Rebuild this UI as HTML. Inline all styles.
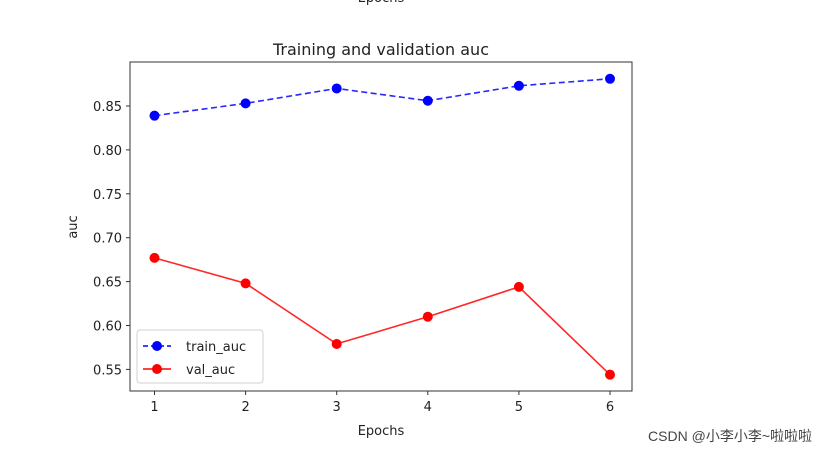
<!DOCTYPE html>
<html><head><meta charset="utf-8"><style>
body{margin:0;background:#fff;width:827px;height:454px;overflow:hidden}
svg text{font-family:"DejaVu Sans","Liberation Sans",sans-serif;fill:#222}
</style></head><body>
<svg id="chart" width="827" height="454" xmlns="http://www.w3.org/2000/svg">
<text x="381" y="2" font-size="13" text-anchor="middle">Epochs</text>
<text x="381" y="55" font-size="16" text-anchor="middle">Training and validation auc</text>
<g id="xt"></g>
<g id="yt"></g>
<g id="series"></g>
<rect x="130" y="62" width="502" height="329" fill="none" stroke="#333" stroke-width="1"/>
<text x="381" y="435" font-size="13" text-anchor="middle">Epochs</text>
<text x="0" y="0" font-size="13" text-anchor="middle" transform="translate(77,227) rotate(-90)">auc</text>
<g>
<rect x="137" y="330" width="126" height="53" rx="3" fill="#fff" stroke="#ccc" opacity="0.9"/>
<line x1="143" y1="346" x2="171" y2="346" stroke="#0000ff" stroke-width="1.5" stroke-dasharray="5,3"/>
<circle cx="157" cy="346" r="5" fill="#0000ff"/>
<text x="186" y="351" font-size="13">train_auc</text>
<line x1="143" y1="369" x2="171" y2="369" stroke="#ff0000" stroke-width="1.5"/>
<circle cx="157" cy="369" r="5" fill="#ff0000"/>
<text x="186" y="374" font-size="13">val_auc</text>
</g>
<text x="812" y="441" font-size="14" text-anchor="end" style="font-family:'Liberation Sans','Noto Sans CJK SC',sans-serif;fill:#444">CSDN @小李小李~啦啦啦</text>
</svg>
<script>
const epochs=[1,2,3,4,5,6];
const trainAuc=[0.839,0.853,0.870,0.856,0.873,0.881];
const valAuc=[0.677,0.648,0.579,0.610,0.644,0.544];
const yTicks=[0.55,0.60,0.65,0.70,0.75,0.80,0.85];
const NS="http://www.w3.org/2000/svg";
function xs(v){return 154.5+(v-1)*91.1;}
function ys(v){return 106+(0.85-v)/0.05*43.9;}
function mk(tag,attrs,parent){const e=document.createElementNS(NS,tag);for(const k in attrs)e.setAttribute(k,attrs[k]);parent.appendChild(e);return e;}
const xt=document.getElementById('xt'),yt=document.getElementById('yt'),sg=document.getElementById('series');
epochs.forEach(v=>{
 const t=mk('line',{x1:xs(v),x2:xs(v),y1:391,y2:395,stroke:'#333'},xt);
 
 
 const l=mk('text',{x:xs(v),y:411,'font-size':13,'text-anchor':'middle'},xt);l.textContent=v;
 
 
});
yTicks.forEach(v=>{
 const t=mk('line',{x1:126,x2:130,y1:ys(v),y2:ys(v),stroke:'#333'},yt);
 
 
 const l=mk('text',{x:122,y:ys(v)+5,'font-size':13,'text-anchor':'end'},yt);l.textContent=v.toFixed(2);
 
 
});
function draw(vals,color,dash,name){
 const p=mk('polyline',{points:vals.map((v,i)=>xs(epochs[i])+','+ys(v)).join(' '),fill:'none',stroke:color,'stroke-width':1.6,'stroke-opacity':0.85},sg);
 if(dash)p.setAttribute('stroke-dasharray','6,3.5');
 
 
 vals.forEach((v,i)=>{const c=mk('circle',{cx:xs(epochs[i]),cy:ys(v),r:5,fill:color},sg);
  
  });
}
draw(trainAuc,'#0000ff',true,'train-auc');
draw(valAuc,'#ff0000',false,'val-auc');
</script>
</body></html>
